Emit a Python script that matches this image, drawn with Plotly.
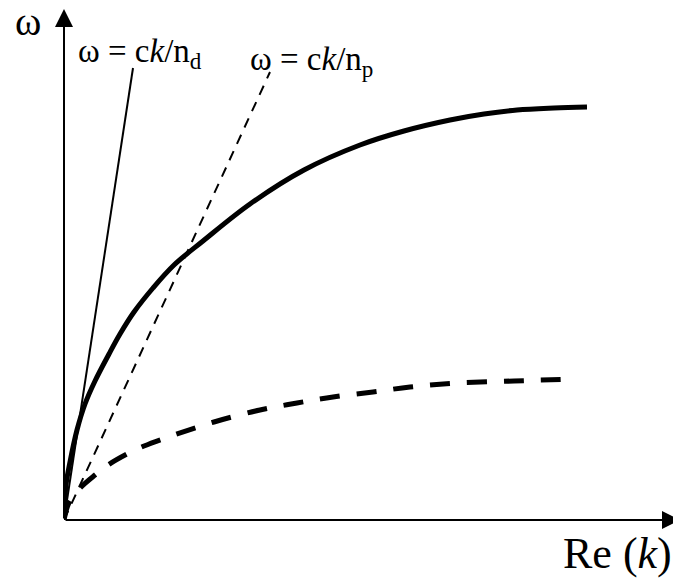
import plotly.graph_objects as go

# Read-off values (arbitrary units: k along Re(k), omega vertical)
k_solid = [0, 2, 6, 13, 21, 31, 45, 56, 70, 89, 110, 139, 186, 240, 296, 340, 386, 420, 453, 490, 523]
w_solid = [0, 35, 58, 90, 116, 139, 166, 186, 208, 232, 255, 279, 316, 350, 375, 389, 400, 406, 410, 412, 413]

k_dash = [0, 4, 8, 16, 31, 44, 63, 80, 110, 150, 196, 233, 269, 309, 346, 393, 450, 509]
w_dash = [0, 15, 22, 32, 45, 55, 66, 74, 85, 98, 110, 117, 123, 128, 133, 137, 139, 141]

k_nd = [0, 69]
w_nd = [0, 452]

k_np = [0, 206]
w_np = [0, 448]

K_MAX = 616
W_MAX = 512

label_nd = "ω = c<i>k</i>/n<sub>d</sub>"
label_np = "ω = c<i>k</i>/n<sub>p</sub>"
x_title = "Re (<i>k</i>)"
y_title = "ω"

FONT = "Liberation Serif, Times New Roman, serif"


def px(k):
    return k / K_MAX


def py(w):
    return w / W_MAX


fig = go.Figure()
fig.add_trace(go.Scatter(x=k_nd, y=w_nd, mode="lines",
                         line=dict(color="black", width=2), showlegend=False))
fig.add_trace(go.Scatter(x=k_np, y=w_np, mode="lines",
                         line=dict(color="black", width=2, dash="10px,8px"), showlegend=False))
fig.add_trace(go.Scatter(x=k_solid, y=w_solid, mode="lines", line_shape="spline",
                         line=dict(color="black", width=5), showlegend=False))
fig.add_trace(go.Scatter(x=k_dash, y=w_dash, mode="lines", line_shape="spline",
                         line=dict(color="black", width=5, dash="20px,17px"), showlegend=False))

# axes with arrows
fig.add_annotation(x=1.0, y=0, xref="paper", yref="paper", ax=-K_MAX, ay=0,
                   text="", showarrow=True, arrowhead=2, arrowsize=1.8, arrowwidth=2,
                   arrowcolor="black")
fig.add_annotation(x=0, y=py(515), xref="paper", yref="paper", ax=0, ay=515,
                   text="", showarrow=True, arrowhead=2, arrowsize=1.8, arrowwidth=2,
                   arrowcolor="black")

fig.add_annotation(x=px(12), y=py(467), xref="paper", yref="paper", text=label_nd, showarrow=False,
                   xanchor="left", yanchor="middle", font=dict(family=FONT, size=33, color="black"))
fig.add_annotation(x=px(184), y=py(459), xref="paper", yref="paper", text=label_np, showarrow=False,
                   xanchor="left", yanchor="middle", font=dict(family=FONT, size=33, color="black"))
fig.add_annotation(x=px(497), y=py(-33), xref="paper", yref="paper", text=x_title, showarrow=False,
                   xanchor="left", yanchor="middle", font=dict(family=FONT, size=44, color="black"))
fig.add_annotation(x=px(-36), y=py(499), xref="paper", yref="paper", text=y_title, showarrow=False,
                   xanchor="center", yanchor="middle", font=dict(family=FONT, size=40, color="black"))

fig.update_xaxes(range=[0, K_MAX], visible=False)
fig.update_yaxes(range=[0, W_MAX], visible=False)
fig.update_layout(width=673, height=576, margin=dict(l=56, r=1, t=0, b=64),
                  plot_bgcolor="white", paper_bgcolor="white")

fig.write_html("out.html")
